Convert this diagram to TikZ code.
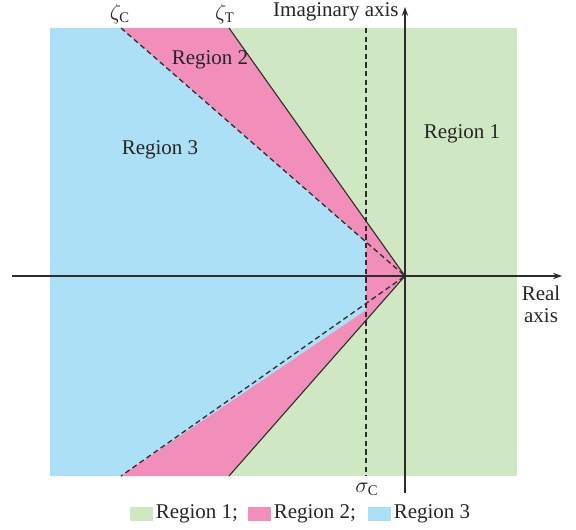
\documentclass[tikz,border=0pt]{standalone}
\usepackage{fontspec}
\setmainfont{Liberation Serif}
\usetikzlibrary{arrows.meta}
\definecolor{regone}{RGB}{208,231,196}
\definecolor{regtwo}{RGB}{242,142,186}
\definecolor{regthree}{RGB}{172,224,247}
\definecolor{lnc}{RGB}{45,45,45}
\tikzset{
  bound/.style={draw=lnc,line width=0.55pt},
  dashbound/.style={draw=lnc,line width=0.65pt,dash pattern=on 2.6pt off 1.7pt},
  axis/.style={draw=lnc,line width=0.55pt,-{Stealth[length=4.5pt,width=3.2pt]}},
  legbox/.style={minimum width=11.5pt,minimum height=7pt,inner sep=0pt}
}
\begin{document}
\begin{tikzpicture}[x=0.5pt,y=-0.5pt, every node/.style={font=\fontsize{10.5}{12}\selectfont,text=black!85}]
  \useasboundingbox (0,0) rectangle (576,529);
  \coordinate (O) at (405,276);
  \coordinate (tT) at (229,28);
  \coordinate (bT) at (229,476);
  \coordinate (tC) at (121,28);
  \coordinate (bC) at (121,476);
  \coordinate (kU) at (366,242);
  \coordinate (kD) at (366,310);
  \coordinate (sU) at (366,28);
  \coordinate (sD) at (366,476);
  % regions
  \fill[regone] (50,28) rectangle (517,476);
  \fill[regtwo] (tC) -- (tT) -- (O) -- (bT) -- (bC) -- cycle;
  \fill[regthree] (50,28) -- (tC) -- (kU) -- (kD) -- (bC) -- (50,476) -- cycle;
  % boundaries
  \draw[bound] (tT) -- (O) -- (bT);
  \draw[dashbound] (tC) -- (O) -- (bC);
  \draw[dashbound] (sU) -- (sD);
  % axes
  \coordinate (xs) at (12,276);
  \coordinate (xe) at (562,276);
  \coordinate (ys) at (405,493);
  \coordinate (ye) at (405,7);
  \draw[axis] (xs) -- (xe);
  \draw[axis] (ys) -- (ye);
  \node[anchor=east,inner sep=1pt] (ilab) at (401,12) {Imaginary axis};
  \node[align=center,inner sep=0pt] (rlab) at (541,304) {Real\\[-1pt]axis};
  \node (zc) at (120,14) {$\zeta_{\mathrm{C}}$};
  \node (zt) at (225,14) {$\zeta_{\mathrm{T}}$};
  \node (sc) at (367,489) {$\sigma_{\mathrm{C}}$};
  \node (r1) at (462,134) {Region 1};
  \node (r2) at (210,60) {Region 2};
  \node (r3) at (160,150) {Region 3};
  % legend
  \node[legbox,fill=regone] (lg1) at (141.5,514) {};
  \node[anchor=west,inner sep=1pt] (lt1) at (lg1.east) {Region 1;};
  \node[legbox,fill=regtwo] (lg2) at (259.5,514) {};
  \node[anchor=west,inner sep=1pt] (lt2) at (lg2.east) {Region 2;};
  \node[legbox,fill=regthree] (lg3) at (379.5,514) {};
  \node[anchor=west,inner sep=1pt] (lt3) at (lg3.east) {Region 3};
\end{tikzpicture}
\end{document}
